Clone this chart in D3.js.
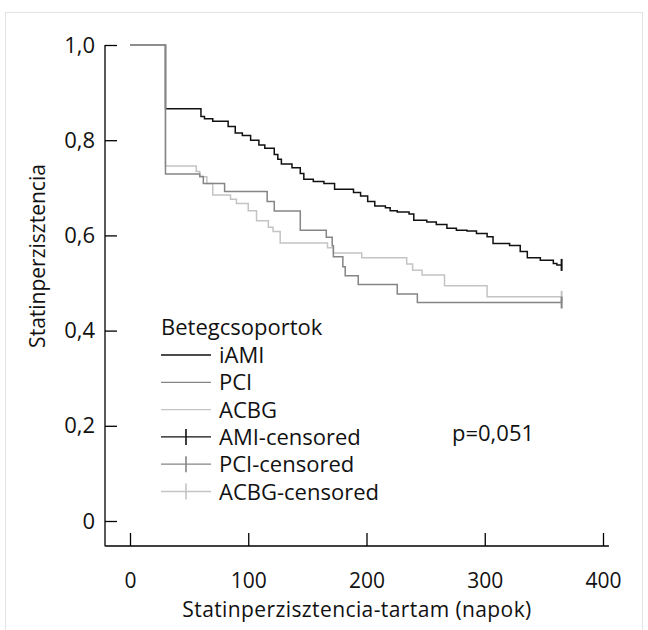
<!DOCTYPE html>
<html>
<head>
<meta charset="utf-8">
<script src="https://cdn.jsdelivr.net/npm/d3@7"></script>
<style>
  body { margin: 0; background: #fff; }
  text { font-family: "Open Sans", "Noto Sans", sans-serif; fill: #111; }
</style>
</head>
<body>
<div id="chart"></div>
<script>
// survival steps (day, survival after the drop)
var amiTime = [0, 30, 60, 63, 70, 83, 89, 95, 102, 109, 114, 122, 125, 128, 137, 144, 147, 155, 164, 173, 189, 195, 201, 207, 216, 220, 226, 236, 240, 251, 259, 268, 276, 285, 293, 302, 307, 321, 330, 336, 347, 358, 361, 365];
var amiSurv = [1.0, 0.866, 0.850, 0.845, 0.840, 0.829, 0.815, 0.810, 0.800, 0.790, 0.783, 0.770, 0.760, 0.750, 0.742, 0.730, 0.718, 0.713, 0.709, 0.697, 0.690, 0.683, 0.671, 0.662, 0.658, 0.652, 0.649, 0.645, 0.632, 0.628, 0.623, 0.615, 0.611, 0.609, 0.604, 0.597, 0.583, 0.579, 0.566, 0.553, 0.548, 0.541, 0.538, 0.538];

var pciTime = [0, 30, 59, 62, 80, 116, 122, 144, 166, 171, 172, 180, 182, 193, 226, 243, 365];
var pciSurv = [1.0, 0.729, 0.724, 0.709, 0.692, 0.671, 0.651, 0.611, 0.596, 0.578, 0.555, 0.534, 0.515, 0.497, 0.477, 0.459, 0.459];

var acbgTime = [0, 30, 56, 59, 65, 70, 85, 90, 100, 107, 117, 121, 127, 167, 172, 196, 234, 239, 247, 266, 302, 365];
var acbgSurv = [1.0, 0.746, 0.734, 0.723, 0.709, 0.685, 0.676, 0.667, 0.652, 0.631, 0.617, 0.608, 0.584, 0.574, 0.563, 0.553, 0.540, 0.527, 0.517, 0.494, 0.471, 0.471];

var yTicks = [0, 0.2, 0.4, 0.6, 0.8, 1.0];
var xTicks = [0, 100, 200, 300, 400];
var legendNames = ["iAMI", "PCI", "ACBG", "AMI-censored", "PCI-censored", "ACBG-censored"];
var pValue = "p=0,051";

var W = 648, H = 630;
var svg = d3.select("#chart").append("svg")
    .attr("width", W)
    .attr("height", H);

// light frame round the figure
svg.append("rect")
    .attr("x", 5.5).attr("y", 12.5)
    .attr("width", 637).attr("height", 630)
    .attr("fill", "none")
    .attr("stroke", "#e3e3e3");

var x = d3.scaleLinear().domain([0, 400]).range([130, 603]);
var y = d3.scaleLinear().domain([0, 1]).range([521, 45]);
var fmt = function(d) { return d === 0 ? "0" : d3.format(".1f")(d).replace(".", ","); };

// y axis, ticks pointing inward
var gy = svg.append("g")
    .attr("transform", "translate(105,0)")
    .call(d3.axisLeft(y).tickValues(yTicks).tickFormat(fmt)
        .tickSizeInner(-12).tickSizeOuter(0).tickPadding(10));
gy.select(".domain").remove();
gy.selectAll("line").attr("stroke", "#000").attr("stroke-width", 1.3);
gy.selectAll("text").attr("font-size", "22px").attr("font-family", "Open Sans");
gy.append("line")
    .attr("x1", 0).attr("x2", 0)
    .attr("y1", y(1)).attr("y2", y(-0.053))
    .attr("stroke", "#000").attr("stroke-width", 1.3);

// x axis
var gx = svg.append("g")
    .attr("transform", "translate(0,546)")
    .call(d3.axisBottom(x).tickValues(xTicks).tickFormat(d3.format("d"))
        .tickSizeInner(-13).tickSizeOuter(0).tickPadding(28));
gx.select(".domain").remove();
gx.selectAll("line").attr("stroke", "#000").attr("stroke-width", 1.3);
gx.selectAll("text")
    .attr("font-size", "21px").attr("font-family", "Open Sans")
    .attr("y", 0).attr("dy", "42px");
gx.append("line")
    .attr("x1", x(-21)).attr("x2", x(405))
    .attr("y1", 0).attr("y2", 0)
    .attr("stroke", "#000").attr("stroke-width", 1.3);

// axis titles
svg.append("text")
    .attr("x", 357).attr("y", 617)
    .attr("text-anchor", "middle")
    .attr("font-size", "21px")
    .attr("letter-spacing", "0.4px")
    .text("Statinperzisztencia-tartam (napok)");

svg.append("text")
    .attr("transform", "translate(45,256) rotate(-90)")
    .attr("text-anchor", "middle")
    .attr("font-size", "21px")
    .text("Statinperzisztencia");

// the step curves
var line = d3.line()
    .x(function(d) { return x(d[0]); })
    .y(function(d) { return y(d[1]); })
    .curve(d3.curveStepAfter);

var groups = [
    { time: amiTime, surv: amiSurv, color: "#111" },
    { time: acbgTime, surv: acbgSurv, color: "#c4c4c4" },
    { time: pciTime, surv: pciSurv, color: "#858585" }
];

groups.forEach(function(g) {
    var pts = g.time.map(function(t, i) { return [t, g.surv[i]]; });
    svg.append("path")
        .datum(pts)
        .attr("fill", "none")
        .attr("stroke", g.color)
        .attr("stroke-width", 1.5)
        .attr("d", line);
    // censor mark at the last time
    var last = pts[pts.length - 1];
    svg.append("line")
        .attr("x1", x(last[0])).attr("x2", x(last[0]))
        .attr("y1", y(last[1]) - 6).attr("y2", y(last[1]) + 6)
        .attr("stroke", g.color)
        .attr("stroke-width", 2);
});

// legend
var legColors = ["#111", "#858585", "#c4c4c4", "#111", "#858585", "#c4c4c4"];
var leg = svg.append("g").attr("transform", "translate(161,0)");
leg.append("text")
    .attr("x", 0).attr("y", 335)
    .attr("font-size", "22px")
    .text("Betegcsoportok");

var rows = leg.selectAll(".row")
    .data(legendNames)
    .enter().append("g")
    .attr("class", "row")
    .attr("transform", function(d, i) { return "translate(0," + (355 + i * 27.3) + ")"; });

rows.append("line")
    .attr("x1", 0).attr("x2", 50)
    .attr("stroke", function(d, i) { return legColors[i]; })
    .attr("stroke-width", 1.3);

rows.filter(function(d, i) { return i >= 3; })
    .append("line")
    .attr("x1", 25).attr("x2", 25)
    .attr("y1", -8).attr("y2", 8)
    .attr("stroke", function(d, i) { return legColors[i + 3]; })
    .attr("stroke-width", 1.6);

rows.append("text")
    .attr("x", 58).attr("y", 8)
    .attr("font-size", "22px")
    .text(function(d) { return d; });

svg.append("text")
    .attr("x", 452).attr("y", 441)
    .attr("font-size", "22px")
    .text(pValue);
</script>
</body>
</html>
